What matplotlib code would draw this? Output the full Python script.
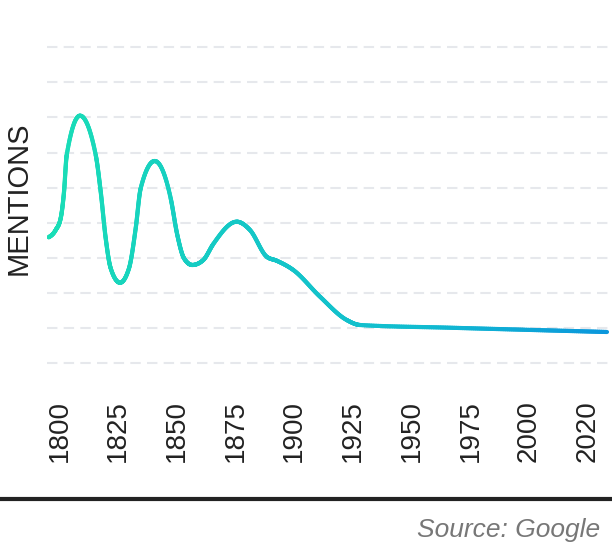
import numpy as np
import matplotlib.pyplot as plt
from matplotlib.path import Path
from matplotlib.collections import LineCollection
from matplotlib.colors import LinearSegmentedColormap
from matplotlib.lines import Line2D

plt.rcParams["font.family"] = ["Liberation Sans", "DejaVu Sans"]

# --- data (x in tick-slot units, y in gridline units) ---
years = ["1800", "1825", "1850", "1875", "1900", "1925", "1950", "1975", "2000", "2020"]
pos = [-0.184, -0.065, 0.020, 0.077, 0.123, 0.349, 0.617, 0.702,
       0.787, 0.872, 1.031, 1.184, 1.298, 1.383, 1.622, 1.894,
       2.007, 2.121, 2.262, 2.450, 2.620, 3.019, 3.245, 3.530, 3.700, 3.983,
       4.438, 4.893, 5.119, 6.652, 8.066, 9.327]
mentions = [3.583, 3.791, 4.125, 4.883, 5.929, 7.050, 5.929, 4.883,
            3.555, 2.700, 2.289, 2.700, 3.840, 4.980, 5.758, 4.695,
            3.649, 2.985, 2.794, 2.936, 3.392, 4.028, 3.791, 3.030, 2.916, 2.651,
            1.890, 1.226, 1.083, 1.006, 0.941, 0.884]
grid_levels = list(range(10))


def smooth_path(x, y):
    # monotone cubic through the points (like d3 curveMonotoneX), as bezier segments
    x = np.asarray(x, float)
    y = np.asarray(y, float)
    h = np.diff(x)
    s = np.diff(y) / h
    n = len(x)
    t = np.zeros(n)
    for i in range(1, n - 1):
        p = (s[i - 1] * h[i] + s[i] * h[i - 1]) / (h[i - 1] + h[i])
        t[i] = (np.sign(s[i - 1]) + np.sign(s[i])) * min(abs(s[i - 1]), abs(s[i]), 0.5 * abs(p))
    t[0] = (3 * s[0] - t[1]) / 2
    t[-1] = (3 * s[-1] - t[-2]) / 2
    verts = [(x[0], y[0])]
    codes = [Path.MOVETO]
    for i in range(n - 1):
        k = h[i] / 3
        verts += [(x[i] + k, y[i] + t[i] * k), (x[i + 1] - k, y[i + 1] - t[i + 1] * k), (x[i + 1], y[i + 1])]
        codes += [Path.CURVE4] * 3
    return Path(verts, codes)


W, H = 612, 544
SX, SY = 58.7, 35.08  # pixels per unit
fig = plt.figure(figsize=(W / 100, H / 100), dpi=100)

# axes placed in pixel terms
ylo, yhi = -0.3, 9.3
bottom_px = 363 + 0.3 * SY
top_px = 363 - 9.3 * SY
ax = fig.add_axes([47 / W, 1 - bottom_px / H, 565 / W, (bottom_px - top_px) / H])
ax.set_xlim((47 - 59.5) / SX, (612 - 59.5) / SX)
ax.set_ylim(ylo, yhi)

# gridlines
ax.set_yticks(grid_levels)
ax.yaxis.grid(True, color="#e6e8ec", linewidth=1.5, linestyle=(0, (5, 3)))
ax.tick_params(axis="y", length=0, labelleft=False)
ax.set_axisbelow(True)

# gradient line
path = smooth_path(pos, mentions)
pts = []
for bez, code in path.iter_bezier():
    if code == Path.MOVETO:
        continue
    seg = bez(np.linspace(0, 1, 40))
    pts.append(seg if not pts else seg[1:])
pts = np.vstack(pts)
segs = np.stack([pts[:-1], pts[1:]], axis=1)
cmap = LinearSegmentedColormap.from_list("g", ["#1adeb6", "#14c8c6", "#11bcd0", "#0b97dc"])
mid = (segs[:, 0, 0] + segs[:, 1, 0]) / 2
lc = LineCollection(segs, cmap=cmap, linewidths=3.0, capstyle="round", joinstyle="round")
lc.set_array(mid)
lc.set_clim(pos[0], pos[-1])
ax.add_collection(lc)

# x ticks
ax.set_xticks(range(len(years)))
ax.set_xticklabels(years, rotation=90, fontsize=20, color="#222222")
ax.tick_params(axis="x", length=0, pad=19)
for sp in ax.spines.values():
    sp.set_visible(False)

fig.text(19 / W, 1 - 198 / H, "MENTIONS", rotation=90, ha="center", va="center",
         fontsize=21, color="#222222")

fig.add_artist(Line2D([0, 1], [1 - 499 / H] * 2, transform=fig.transFigure,
                      color="#222222", linewidth=3.0))

fig.text(600 / W, 1 - 537 / H, "Source: Google", ha="right", va="baseline",
         fontsize=19, style="italic", color="#777777")

fig.savefig("out.png", dpi=100)
